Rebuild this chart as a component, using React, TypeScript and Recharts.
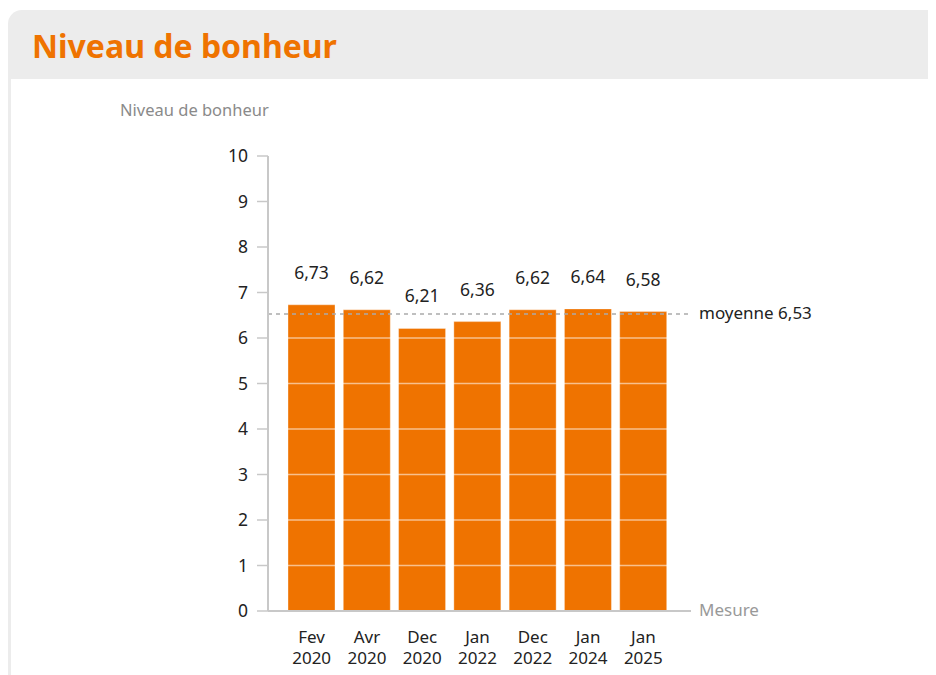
import React from "react";
import { Bar, BarChart, LabelList, ReferenceLine, XAxis, YAxis } from "recharts";

const months = ["Fev", "Avr", "Dec", "Jan", "Dec", "Jan", "Jan"];
const years = ["2020", "2020", "2020", "2022", "2022", "2024", "2025"];
const bonheur = [6.73, 6.62, 6.21, 6.36, 6.62, 6.64, 6.58];
const moyenne = 6.53;
const yTicks = [0, 1, 2, 3, 4, 5, 6, 7, 8, 9, 10];
const gridLevels = [1, 2, 3, 4, 5, 6, 7, 8, 9];

const ORANGE = "#ef7300";
const FONT = "'Noto Sans', sans-serif";

const data = months.map((m, i) => ({ label: `${m} ${years[i]}`, month: m, year: years[i], value: bonheur[i] }));

const fmt = (v: number) => v.toFixed(2).replace(".", ",");

// deux lignes sous chaque barre
const MonthTick = (props: any) => {
  const { x, y, index } = props;
  return (
    <text x={x} y={y + 32} textAnchor="middle" fontSize={17} fill="#222" fontFamily={FONT}>
      <tspan x={x}>{months[index]}</tspan>
      <tspan x={x} dy={21}>
        {years[index]}
      </tspan>
    </text>
  );
};

const ValueLabel = (props: any) => {
  const { x, y, width, value } = props;
  if (value == null) return null;
  return (
    <text x={x + width / 2} y={y - 26} textAnchor="middle" fontSize={17.5} fill="#222" fontFamily={FONT}>
      {fmt(value)}
    </text>
  );
};

export default function App() {
  return (
    <div style={{ position: "relative", width: 928, height: 667, overflow: "hidden", fontFamily: FONT }}>
      <div
        style={{
          position: "absolute",
          left: 0,
          top: 2,
          width: 928,
          height: 69,
          background: "#ececec",
          borderTopLeftRadius: 14,
        }}
      />
      <div style={{ position: "absolute", left: 0, top: 71, width: 3, height: 600, background: "#ececec" }} />
      <div
        style={{
          position: "absolute",
          left: 24,
          top: 18,
          fontSize: 32,
          fontWeight: 700,
          color: ORANGE,
          lineHeight: "40px",
          whiteSpace: "nowrap",
        }}
      >
        Niveau de bonheur
      </div>
      <div style={{ position: "absolute", left: 0, top: 0 }}>
        <BarChart
          width={928}
          height={667}
          data={data}
          margin={{ top: 148, right: 245, bottom: 0, left: 200 }}
        >
          <XAxis
            dataKey="label"
            interval={0}
            tickLine={false}
            tickSize={0}
            tickMargin={0}
            tick={<MonthTick />}
            padding={{ left: 16, right: 20 }}
            axisLine={{ stroke: "#c8c8c8", strokeWidth: 2 }}
            height={64}
            label={(p: any) => {
              const vb = p.viewBox || {};
              return (
                <text x={vb.x + vb.width + 8} y={vb.y + 5} fontSize={17} fill="#999" fontFamily={FONT}>
                  Mesure
                </text>
              );
            }}
          />
          <YAxis
            type="number"
            domain={[0, 10]}
            ticks={yTicks}
            interval={0}
            width={60}
            tickSize={11}
            tickMargin={9}
            tick={{ fontSize: 17.5, fill: "#222", fontFamily: FONT }}
            tickLine={{ stroke: "#c8c8c8", strokeWidth: 1.5 }}
            axisLine={{ stroke: "#c8c8c8", strokeWidth: 2 }}
            label={(p: any) => {
              const vb = p.viewBox || {};
              return (
                <text x={vb.x + vb.width - 148} y={vb.y - 40} fontSize={16.5} fill="#8a8a8a" fontFamily={FONT}>
                  Niveau de bonheur
                </text>
              );
            }}
          />
          <Bar
            dataKey="value"
            fill={ORANGE}
            barSize={47}
            stroke="rgba(255,255,255,0.35)"
            strokeWidth={1}
            isAnimationActive={false}
          >
            <LabelList dataKey="value" content={ValueLabel} />
          </Bar>
          {gridLevels.map((g) => (
            <ReferenceLine key={g} y={g} stroke="rgba(255,255,255,0.55)" strokeWidth={1.5} />
          ))}
          <ReferenceLine
            y={moyenne}
            stroke="#aaaaaa"
            strokeWidth={1.5}
            strokeDasharray="4 4"
            label={(p: any) => {
              const vb = p.viewBox || {};
              return (
                <text x={vb.x + vb.width + 8} y={vb.y + 5} fontSize={17} fill="#222" fontFamily={FONT}>
                  {`moyenne ${fmt(moyenne)}`}
                </text>
              );
            }}
          />
        </BarChart>
      </div>
    </div>
  );
}
